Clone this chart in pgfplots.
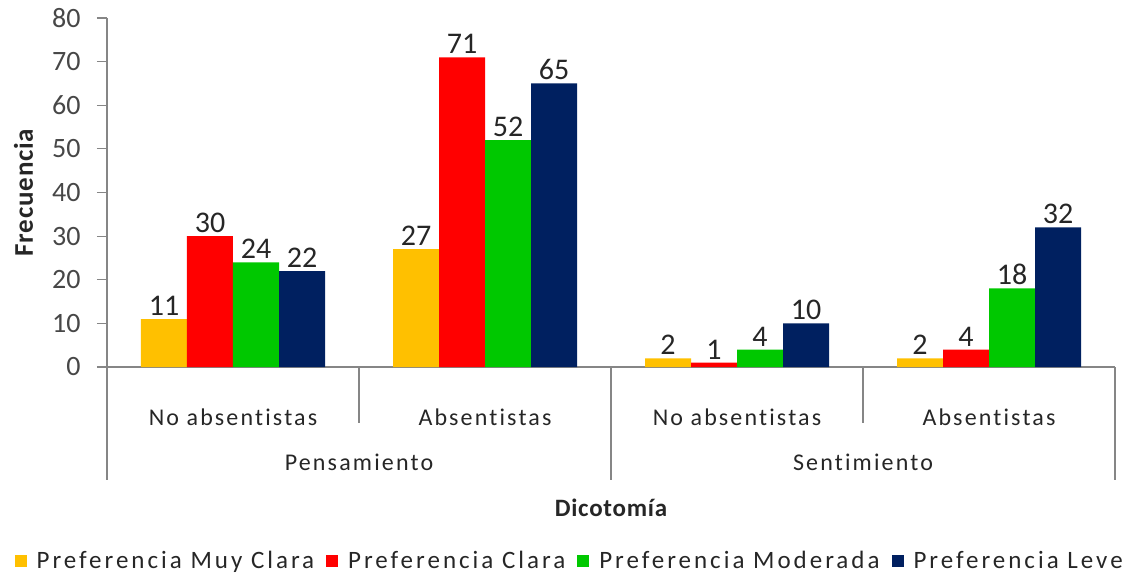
\documentclass[border=0pt]{standalone}
\usepackage{pgfplots}
\pgfplotsset{compat=1.18}
\usepackage{fontspec}
\setmainfont{Carlito}[Ligatures=NoCommon]
\definecolor{cY}{HTML}{FFC000}
\definecolor{cR}{HTML}{FF0000}
\definecolor{cG}{HTML}{00C800}
\definecolor{cB}{HTML}{002060}
\definecolor{axgray}{HTML}{868686}
\definecolor{txt}{HTML}{262626}
\newcommand{\fs}[1]{\fontsize{#1}{#1}\selectfont}
\newcommand{\catfont}{\fs{24bp}\addfontfeature{LetterSpace=9}}
\begin{document}
\begin{tikzpicture}
\path[use as bounding box] (-107bp,-211bp) rectangle (1033bp,367bp);
\begin{axis}[
  at={(0,0)}, anchor=south west,
  scale only axis, width=1008bp, height=349bp,
  ymin=0, ymax=80, ytick={0,10,...,80},
  xmin=-0.5, xmax=3.5, xtick={0,1,2,3},
  xticklabels={No absentistas, Absentistas, No absentistas, Absentistas},
  ybar=0pt, bar width=46bp,
  axis x line*=bottom, axis y line*=left,
  axis line style={draw=axgray, line width=1.2bp, -},
  y tick style={draw=axgray, line width=1.2bp},
  x tick style={draw=none},
  tick align=outside, major tick length=10bp,
  /pgf/number format/assume math mode=true,
  yticklabel style={font=\fs{28bp}, text=txt!85, xshift=-13bp},
  xticklabel style={font=\catfont, text=txt, anchor=base, yshift=-48bp},
  clip=false,
  nodes near coords,
  nodes near coords style={font=\fs{30bp}, text=txt},
  every axis plot/.append style={draw=none},
  legend columns=4,
  legend style={draw=none, fill=none, at={(rel axis cs:0.459,0)}, anchor=center, yshift=-194bp,
    font=\fs{25bp}\addfontfeature{LetterSpace=12}, text=txt,
    /tikz/every odd column/.append style={column sep=8bp},
    /tikz/every even column/.append style={column sep=10bp}},
  legend image code/.code={\fill[#1] (0bp,-6bp) rectangle (12bp,6bp);},
]
\addplot[fill=cY] coordinates {(0,11) (1,27) (2,2) (3,2)};
\addplot[fill=cR] coordinates {(0,30) (1,71) (2,1) (3,4)};
\addplot[fill=cG] coordinates {(0,24) (1,52) (2,4) (3,18)};
\addplot[fill=cB] coordinates {(0,22) (1,65) (2,10) (3,32)};
\legend{Preferencia Muy Clara, Preferencia Clara, Preferencia Moderada, Preferencia Leve}
\draw[axgray, line width=1.2bp] (axis cs:-0.5,0) -- ([yshift=-113bp]axis cs:-0.5,0);
\draw[axgray, line width=1.2bp] (axis cs:1.5,0) -- ([yshift=-113bp]axis cs:1.5,0);
\draw[axgray, line width=1.2bp] (axis cs:3.5,0) -- ([yshift=-113bp]axis cs:3.5,0);
\draw[axgray, line width=1.2bp] (axis cs:0.5,0) -- ([yshift=-56bp]axis cs:0.5,0);
\draw[axgray, line width=1.2bp] (axis cs:2.5,0) -- ([yshift=-56bp]axis cs:2.5,0);
\node[anchor=base, font=\catfont, text=txt] at ([yshift=-103bp]axis cs:0.5,0) {Pensamiento};
\node[anchor=base, font=\catfont, text=txt] at ([yshift=-103bp]axis cs:2.5,0) {Sentimiento};
\node[anchor=base, font=\fs{25bp}\bfseries\addfontfeature{LetterSpace=3}, text=txt] at ([yshift=-149bp]rel axis cs:0.5,0) {Dicotomía};
\node[anchor=base, rotate=90, font=\fs{27bp}\bfseries\addfontfeature{LetterSpace=3}, text=txt] at ([xshift=-74bp]rel axis cs:0,0.5) {Frecuencia};
\end{axis}
\end{tikzpicture}
\end{document}
